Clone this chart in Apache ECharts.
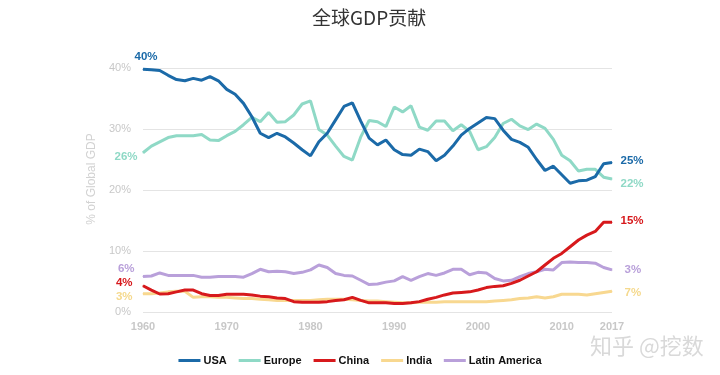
<!DOCTYPE html>
<html><head><meta charset="utf-8">
<script src="https://cdn.jsdelivr.net/npm/echarts@6/dist/echarts.min.js"></script>
<style>html,body{margin:0;padding:0;background:#fff}#c{width:720px;height:375px}</style>
</head><body><div id="c"></div>
<script>
const years = ['1960','1961','1962','1963','1964','1965','1966','1967','1968','1969',
'1970','1971','1972','1973','1974','1975','1976','1977','1978','1979',
'1980','1981','1982','1983','1984','1985','1986','1987','1988','1989',
'1990','1991','1992','1993','1994','1995','1996','1997','1998','1999',
'2000','2001','2002','2003','2004','2005','2006','2007','2008','2009',
'2010','2011','2012','2013','2014','2015','2016'];
const tickLabels = ['1960','1970','1980','1990','2000','2010','2017'];
const usa = [39.8,39.7,39.6,38.8,38.1,37.9,38.3,38.0,38.6,37.9,
36.5,35.7,34.2,32.0,29.3,28.6,29.3,28.7,27.7,26.6,
25.6,27.9,29.3,31.5,33.7,34.3,31.3,28.5,27.4,28.2,
26.6,25.8,25.7,26.7,26.3,24.8,25.7,27.2,29.0,30.1,
31.0,31.9,31.7,29.8,28.3,27.8,27.0,25.0,23.2,23.9,
22.5,21.1,21.5,21.6,22.2,24.3,24.5];
const europe = [26.1,27.2,27.9,28.6,28.9,28.9,28.9,29.1,28.2,28.1,
28.9,29.6,30.7,31.9,31.2,32.7,31.1,31.2,32.3,34.1,
34.6,29.9,29.0,27.2,25.5,24.9,28.7,31.4,31.2,30.4,
33.6,32.8,33.8,30.3,29.8,31.3,31.3,29.7,30.7,29.6,
26.6,27.1,28.6,30.9,31.6,30.5,29.9,30.8,30.1,28.3,
25.7,24.8,23.1,23.4,23.4,22.1,21.8];
const china = [4.3,3.6,2.95,3.0,3.3,3.6,3.6,3.0,2.7,2.7,
2.9,2.9,2.9,2.8,2.6,2.5,2.3,2.2,1.7,1.6,
1.6,1.6,1.7,1.9,2.0,2.4,1.9,1.5,1.5,1.5,
1.4,1.4,1.5,1.7,2.1,2.4,2.8,3.1,3.2,3.3,
3.6,4.0,4.2,4.3,4.7,5.2,5.9,6.6,7.7,8.8,
9.6,10.7,11.8,12.6,13.2,14.7,14.7];
const india = [3.0,3.0,3.1,3.3,3.4,3.4,2.4,2.5,2.5,2.4,
2.4,2.3,2.2,2.2,2.1,2.0,1.9,1.9,1.9,1.9,
1.9,2.0,2.1,2.1,2.1,2.0,1.9,1.8,1.8,1.7,
1.6,1.5,1.5,1.6,1.6,1.6,1.7,1.7,1.7,1.7,
1.7,1.7,1.8,1.9,2.0,2.2,2.3,2.5,2.3,2.5,
2.9,2.9,2.9,2.8,3.0,3.2,3.4];
const latam = [5.8,5.9,6.4,6.0,6.0,6.0,6.0,5.7,5.7,5.8,
5.8,5.8,5.7,6.3,7.0,6.6,6.7,6.6,6.3,6.5,
6.9,7.7,7.3,6.3,6.0,5.9,5.2,4.5,4.6,4.9,
5.1,5.8,5.2,5.8,6.3,6.0,6.4,7.0,7.0,6.1,
6.5,6.4,5.5,5.1,5.2,5.8,6.3,6.6,7.0,6.9,
8.1,8.2,8.1,8.1,8.0,7.3,6.9];
const names = ['USA','Europe','China','India','Latin America'];
const startText = ['40%','26%','4%','3%','6%'];
const endText = ['25%','22%','15%','7%','3%'];
const yTicks = ['0%','10%','20%','30%','40%'];

const colors = ['#1b6aa8','#8fd9c6','#d7191c','#f8d890','#b9a0da'];
const labelColors = ['#1b6aa8','#8fd9c6','#d7191c','#f5d98d','#b9a0da'];
const startCfg = [
  {position:'top', distance:4, offset:[3,-2]},
  {position:'left', distance:5, offset:[0,4]},
  {position:'left', distance:10, offset:[0,-3]},
  {position:'left', distance:10, offset:[0,3]},
  {position:'left', distance:8, offset:[0,-8]}
];
const endCfg = [
  {position:'right', distance:8, offset:[0,-2]},
  {position:'right', distance:8, offset:[0,5]},
  {position:'right', distance:8, offset:[0,-2]},
  {position:'right', distance:12, offset:[0,2]},
  {position:'right', distance:12, offset:[0,0]}
];
const all = [usa, europe, china, india, latam];

function buildData(arr, i){
  return arr.map((v, k) => {
    if (k === 0 || k === arr.length - 1) {
      const c = k === 0 ? startCfg[i] : endCfg[i];
      return {value: v, symbolSize: 1,
        label: {show: true, formatter: k === 0 ? startText[i] : endText[i],
        position: c.position, distance: c.distance, offset: c.offset,
        color: labelColors[i], fontSize: 11.5, fontWeight: 'bold', fontFamily: 'Liberation Sans, Arial, sans-serif'}};
    }
    return {value: v, symbol: 'none'};
  });
}

const chart = echarts.init(document.getElementById('c'), null, {renderer:'canvas'});
chart.setOption({
  animation: false,
  color: colors,
  title: {text: '全球GDP贡献', left: 307, top: 3,
    textStyle: {fontSize: 19, fontWeight: 'normal', color: '#333', fontFamily: 'Noto Sans CJK SC, sans-serif'}},
  legend: {bottom: 4, left: 'center', itemWidth: 22, itemHeight: 3, itemGap: 12, icon: 'rect',
    textStyle: {fontSize: 11, fontWeight: 'bold', color: '#111', fontFamily: 'Liberation Sans, Arial, sans-serif', padding: [0,0,0,-2]},
    data: names},
  grid: {left: 143, right: 108, top: 68, bottom: 63},
  xAxis: {type: 'category', data: years, boundaryGap: false,
    axisLine: {show: false}, axisTick: {show: false},
    axisLabel: {color: '#c8c8c8', fontSize: 11, fontWeight: 'bold', margin: 9,
      fontFamily: 'Liberation Sans, Arial, sans-serif',
      interval: (idx, val) => idx === years.length - 1 || tickLabels.indexOf(val) >= 0,
      formatter: (val, idx) => idx === years.length - 1 ? tickLabels[tickLabels.length - 1] : val}},
  yAxis: {type: 'value', min: 0, max: 40, interval: 10,
    name: '% of Global GDP', nameLocation: 'middle', nameGap: 18, nameRotate: 90,
    nameTextStyle: {color: '#d2d2d2', fontSize: 12, fontFamily: 'Liberation Sans, Arial, sans-serif', padding: [0,0,0,22]},
    axisLine: {show: false}, axisTick: {show: false},
    axisLabel: {color: '#c8c8c8', fontSize: 11, margin: 12, fontFamily: 'Liberation Sans, Arial, sans-serif',
      formatter: v => yTicks[v / 10]},
    splitLine: {lineStyle: {color: '#e4e4e4', width: 1}}},
  graphic: [{type: 'text', left: 590, top: 335,
    style: {text: '知乎 @挖数', fill: '#d9d9d9', fontSize: 22, fontFamily: 'Noto Sans CJK SC, sans-serif'}}],
  series: all.map((arr, i) => ({
    name: names[i], type: 'line', data: buildData(arr, i),
    symbol: 'circle', symbolSize: 1, showSymbol: true, showAllSymbol: true,
    lineStyle: {width: 3, color: colors[i]}, itemStyle: {color: colors[i]},
    z: i === 0 ? 5 : (i === 2 ? 4 : 3)
  }))
});
</script></body></html>
